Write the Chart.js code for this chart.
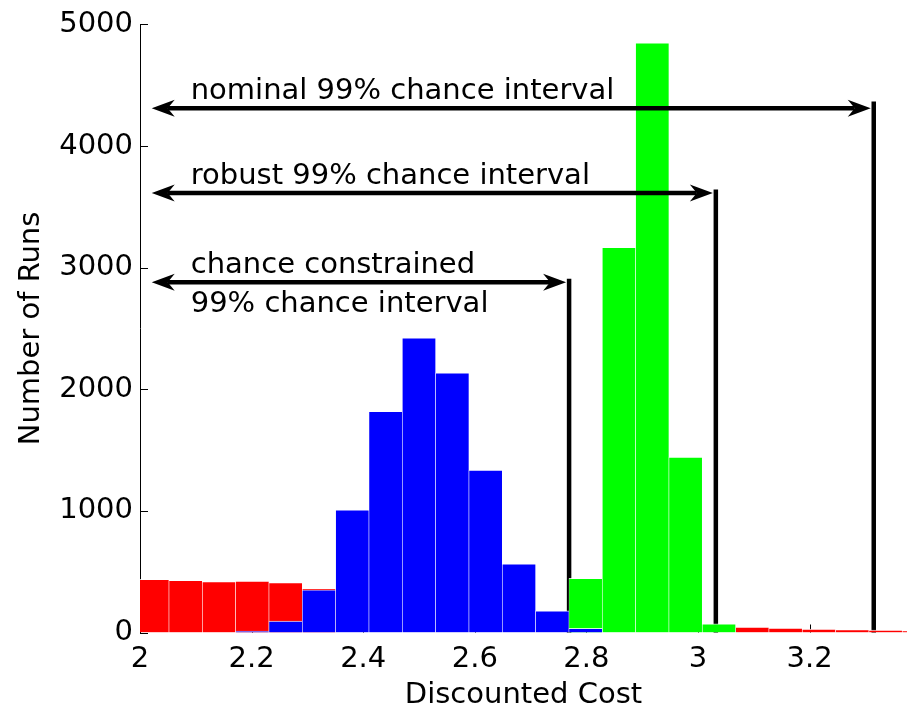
<!DOCTYPE html>
<html>
<head>
<meta charset="utf-8">
<script src="https://cdn.jsdelivr.net/npm/chart.js@4.4.1/dist/chart.umd.min.js"></script>
<style>
  html, body { margin: 0; padding: 0; background: #fff; }
  #wrap { width: 907px; height: 714px; }
</style>
</head>
<body>
<div id="wrap"><canvas id="c" width="907" height="714"></canvas></div>
<script>
// ---- data ----
const binCenters = [2.0221, 2.0818, 2.1416, 2.2013, 2.2610, 2.3208, 2.3805, 2.4402,
                    2.5000, 2.5597, 2.6194, 2.6792, 2.7389, 2.7986, 2.8584, 2.9181,
                    2.9778, 3.0376, 3.0973, 3.1570, 3.2168, 3.2765, 3.3362, 3.3960];
const nominalRuns = [437, 429, 418, 423, 410, 364, null, null, null, null, null, null,
                     null, null, null, null, null, null, 45, 37, 29, 23, 20, 15];
const chanceConstrainedRuns = [null, null, null, 12, 94, 350, 1009, 1818, 2422, 2136, 1336, 565,
                               178, 34, null, null, null, null, null, null, null, null, null, null];
const robustRuns = [null, null, null, null, null, null, null, null, null, null, null, null,
                    null, 445, 3166, 4849, 1442, 72, null, null, null, null, null, null];
const xTickValues = [2, 2.2, 2.4, 2.6, 2.8, 3, 3.2];
const xTickLabels = ['2', '2.2', '2.4', '2.6', '2.8', '3', '3.2'];
const yTickValues = [0, 1000, 2000, 3000, 4000, 5000];
const yTickLabels = ['0', '1000', '2000', '3000', '4000', '5000'];

// chance intervals (annotations)
const intervalLabels = [['nominal 99% chance interval'], ['robust 99% chance interval'], ['chance constrained', '99% chance interval']];
const intervalLower = [2.021, 2.021, 2.021];
const intervalUpper = [3.315, 3.032, 2.769];
const intervalArrowLevel = [4310, 3614, 2880];
const intervalLineTop = [4367, 3643, 2909];

const FONT = "'DejaVu Sans', 'Liberation Sans', Arial, sans-serif";

function toPoints(vals) {
  return binCenters.map((x, i) => ({ x: x, y: vals[i] }));
}

const annotPlugin = {
  id: 'annot',
  beforeDatasetsDraw(chart) {
    const { ctx, chartArea, scales } = chart;
    const x = scales.x, y = scales.y;
    ctx.save();
    // inward tick marks
    ctx.strokeStyle = '#000';
    ctx.lineWidth = 1;
    yTickValues.forEach(v => {
      const py = Math.round(y.getPixelForValue(v)) + 0.5;
      ctx.beginPath();
      ctx.moveTo(chartArea.left, py);
      ctx.lineTo(chartArea.left + 8, py);
      ctx.stroke();
    });
    xTickValues.forEach(v => {
      const px = Math.round(x.getPixelForValue(v)) + 0.5;
      ctx.beginPath();
      ctx.moveTo(px, chartArea.bottom);
      ctx.lineTo(px, chartArea.bottom - 8);
      ctx.stroke();
    });
    // vertical bound lines (behind the bars)
    ctx.lineWidth = 4.5;
    intervalUpper.forEach((v, i) => {
      const px = x.getPixelForValue(v);
      ctx.beginPath();
      ctx.moveTo(px, y.getPixelForValue(intervalLineTop[i]));
      ctx.lineTo(px, y.getPixelForValue(0));
      ctx.stroke();
    });
    ctx.restore();
  },
  afterDatasetsDraw(chart) {
    const { ctx, scales } = chart;
    const x = scales.x, y = scales.y;
    ctx.save();
    ctx.fillStyle = '#000';
    ctx.strokeStyle = '#000';
    const head = (tx, ty, dir) => {
      ctx.beginPath();
      ctx.moveTo(tx, ty);
      ctx.lineTo(tx - dir * 23, ty - 8.5);
      ctx.lineTo(tx - dir * 16, ty);
      ctx.lineTo(tx - dir * 23, ty + 8.5);
      ctx.closePath();
      ctx.fill();
    };
    intervalLabels.forEach((lines, i) => {
      const xl = x.getPixelForValue(intervalLower[i]);
      const xr = x.getPixelForValue(intervalUpper[i]) - 3;
      const py = y.getPixelForValue(intervalArrowLevel[i]);
      ctx.lineWidth = 4.5;
      ctx.beginPath();
      ctx.moveTo(xl + 16, py);
      ctx.lineTo(xr - 16, py);
      ctx.stroke();
      head(xl, py, -1);
      head(xr, py, 1);
      ctx.font = '29px ' + FONT;
      ctx.textAlign = 'left';
      ctx.textBaseline = 'alphabetic';
      ctx.fillText(lines[0], xl + 39, py - 9);
      if (lines.length > 1) ctx.fillText(lines[1], xl + 39, py + 30);
    });
    ctx.restore();
  }
};

const barStyle = {
  borderColor: 'rgba(255,255,255,0.8)',
  borderWidth: { top: 1, left: 0.6, right: 0.6, bottom: 0 },
  borderSkipped: false,
  barPercentage: 1,
  categoryPercentage: 1,
  grouped: false
};

new Chart(document.getElementById('c'), {
  type: 'bar',
  data: {
    datasets: [
      Object.assign({ label: 'nominal', data: toPoints(nominalRuns), backgroundColor: '#ff0000', order: 3 }, barStyle),
      Object.assign({ label: 'robust', data: toPoints(robustRuns), backgroundColor: '#00ff00', order: 2 }, barStyle),
      Object.assign({ label: 'chance constrained', data: toPoints(chanceConstrainedRuns), backgroundColor: '#0000ff', order: 1 }, barStyle)
    ]
  },
  options: {
    responsive: false,
    animation: false,
    devicePixelRatio: 1,
    layout: { padding: { left: 0, top: 20.5, right: 0, bottom: 0 } },
    plugins: { legend: { display: false }, tooltip: { enabled: false } },
    scales: {
      x: {
        type: 'linear',
        min: 2,
        max: 3.3746,
        offset: false,
        grid: { display: false, offset: false, drawTicks: false },
        border: { display: false },
        afterBuildTicks: (s) => { s.ticks = xTickValues.map(v => ({ value: v })); },
        afterFit: (s) => { s.height = 81.5; },
        ticks: {
          padding: 10,
          color: '#000',
          font: { family: FONT, size: 29 },
          maxRotation: 0,
          autoSkip: false,
          callback: (v) => xTickLabels[xTickValues.indexOf(v)]
        },
        title: {
          display: true,
          text: 'Discounted Cost',
          color: '#000',
          font: { family: FONT, size: 29 },
          padding: { top: 0, bottom: 1.6 }
        }
      },
      y: {
        min: 0,
        max: 5000,
        grid: { display: false, drawTicks: false },
        border: { display: true, color: '#000', width: 1 },
        afterBuildTicks: (s) => { s.ticks = yTickValues.map(v => ({ value: v })); },
        afterFit: (s) => { s.width = 140; },
        ticks: {
          padding: 7,
          color: '#000',
          font: { family: FONT, size: 29 },
          callback: (v) => yTickLabels[yTickValues.indexOf(v)]
        },
        title: {
          display: true,
          text: 'Number of Runs',
          color: '#000',
          font: { family: FONT, size: 29 },
          padding: { top: 14, bottom: 0 }
        }
      }
    }
  },
  plugins: [annotPlugin]
});
</script>
</body>
</html>
